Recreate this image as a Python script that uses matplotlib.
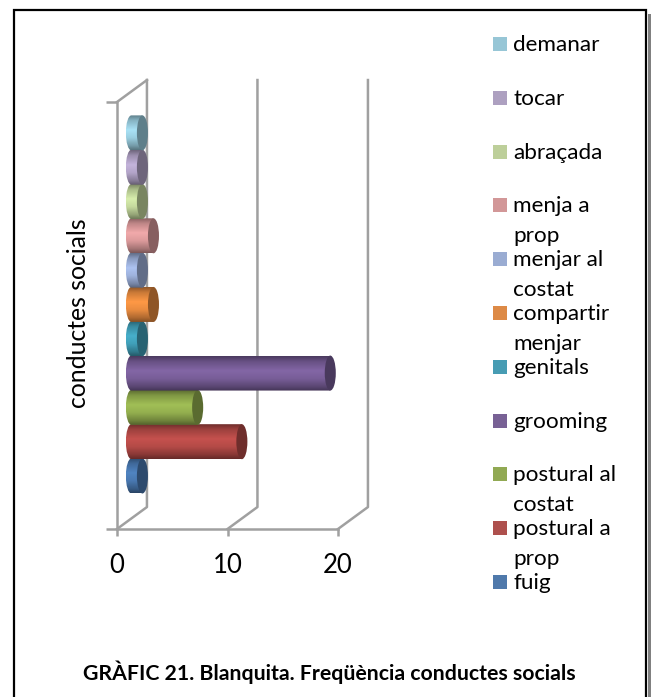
import numpy as np
import matplotlib
matplotlib.use("Agg")
import matplotlib.pyplot as plt
from matplotlib.patches import Ellipse, PathPatch, Rectangle
from matplotlib.path import Path
from matplotlib.colors import to_rgb

plt.rcParams["font.family"] = ["Lato", "DejaVu Sans"]

# de abajo hacia arriba, igual que el grafico
categorias = ["fuig", "postural a\nprop", "postural al\ncostat", "grooming", "genitals",
              "compartir\nmenjar", "menjar al\ncostat", "menja a\nprop", "abraçada", "tocar", "demanar"]
valores = [1, 10, 6, 18, 1, 2, 1, 2, 1, 1, 1]
colores = ["#4572a7", "#aa4643", "#8ba54a", "#71588f", "#3d97af", "#dc843c",
           "#95a8d0", "#d09293", "#bacd95", "#a99bbd", "#92c3d4"]
xticks = [0, 10, 20]
titulo = "GRÀFIC 21. Blanquita. Freqüència conductes socials"
eje_y = "conductes socials"

W, H = 651, 697
GRIS = "#a0a0a0"
LW = 1.8

fig = plt.figure(figsize=(W / 100, H / 100), dpi=100)

# eje en el plano frontal de la caja 3D
ax = fig.add_axes([117 / W, 1 - 529 / H, (338 - 117) / W, (529 - 102) / H])
ax.set_xlim(0, 20)
ax.set_ylim(-1.545, 10.9)
ax.patch.set_visible(False)

for s in ["top", "right"]:
    ax.spines[s].set_visible(False)
for s in ["left", "bottom"]:
    ax.spines[s].set_color(GRIS)
    ax.spines[s].set_linewidth(LW)
ax.set_xticks(xticks)
ax.set_yticks([-1.545, 10.9])
ax.set_yticklabels([])
ax.tick_params(axis="x", length=5, width=LW, color=GRIS, labelsize=18.5, pad=12, labelcolor="black")
ax.tick_params(axis="y", length=8, width=LW, color=GRIS)

# paredes y piso de atras
dx, dy = 2.71, 0.64
y0, y1 = ax.get_ylim()
for t in xticks:
    ax.plot([t, t + dx, t + dx], [y0, y0 + dy, y1 + dy], color=GRIS, lw=LW, clip_on=False, zorder=1)
ax.plot([0, dx], [y1, y1 + dy], color=GRIS, lw=LW, clip_on=False, zorder=1)

# cilindros con degradado vertical
base = 1.3
rx, ry = 0.5, 0.51
k = 0.5523
grad = np.array([0.0, 0.15, 0.42, 0.65, 0.88, 1.0])
luz = np.array([0.66, 0.92, 1.16, 1.06, 0.8, 0.6])

for i, (v, c) in enumerate(zip(valores, colores)):
    x1 = base + v
    rgb = np.array(to_rgb(c))
    t = np.linspace(0, 1, 64)
    f = np.interp(t, grad, luz)
    img = np.clip(rgb[None, None, :] * f[:, None, None], 0, 1)
    verts = [(base, i + ry), (x1, i + ry), (x1, i - ry), (base, i - ry),
             (base - k * rx, i - ry), (base - rx, i - k * ry), (base - rx, i),
             (base - rx, i + k * ry), (base - k * rx, i + ry), (base, i + ry), (base, i + ry)]
    codes = [Path.MOVETO, Path.LINETO, Path.LINETO, Path.LINETO,
             Path.CURVE4, Path.CURVE4, Path.CURVE4,
             Path.CURVE4, Path.CURVE4, Path.CURVE4, Path.CLOSEPOLY]
    cuerpo = PathPatch(Path(verts, codes), fc="none", ec="none", transform=ax.transData)
    ax.add_patch(cuerpo)
    im = ax.imshow(img, extent=[base - rx, x1, i - ry, i + ry], origin="upper",
                   aspect="auto", zorder=3 + i * 0.01, interpolation="bilinear")
    im.set_clip_path(cuerpo)
    ax.add_patch(Ellipse((x1, i), 2 * rx, 2 * ry, fc=rgb * 0.65, ec="none",
                         zorder=3.005 + i * 0.01, clip_on=False))
ax.set_xlim(0, 20)
ax.set_ylim(y0, y1)

fig.text(79 / W, 1 - 313 / H, eje_y, rotation=90, ha="center", va="center", fontsize=17.8)

# leyenda a mano, las etiquetas de dos lineas se pisan con la siguiente
ley_y = 582
paso = 53.8
for i, (cat, c) in enumerate(zip(categorias, colores)):
    y = ley_y - i * paso
    fig.patches.append(Rectangle((493 / W, 1 - (y + 7) / H), 14 / W, 14 / H, transform=fig.transFigure,
                                 fc=c, ec="none", alpha=0.95))
    for n, linea in enumerate(cat.split("\n")):
        fig.text(513 / W, 1 - (y + 7 + n * 30) / H, linea, ha="left", va="baseline", fontsize=16.2)

fig.text(329 / W, 1 - 672 / H, titulo, ha="center", va="center", fontsize=15.3, fontweight="bold")

# marco con sombra
fig.patches.append(Rectangle((13.5 / W, -0.01), (646 - 13.5) / W, 1 - 10 / H + 0.01, transform=fig.transFigure,
                             fc="none", ec="black", lw=1.6))
fig.patches.append(Rectangle((647.5 / W, 0), 3.5 / W, 1 - 14 / H, transform=fig.transFigure, fc="#808080", ec="none"))

fig.savefig("out.png", dpi=100)
